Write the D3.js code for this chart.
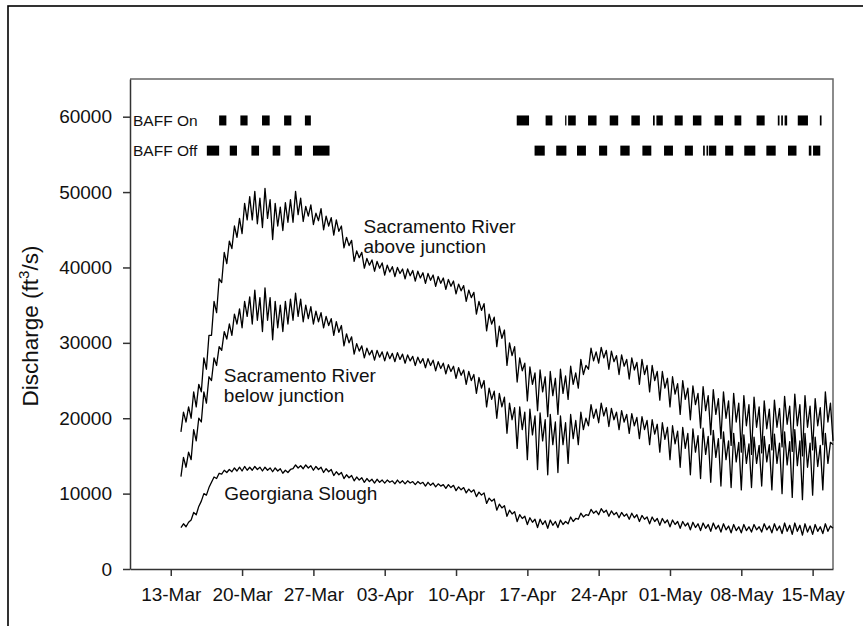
<!DOCTYPE html>
<meta charset="utf-8">
<head>
	<style>
		html, body { margin: 0; padding: 0; background: white; }
		svg text { font-family: "Liberation Sans", Arial, sans-serif; fill: #111; }
		.axis path, .axis line { stroke: #333; stroke-width: 1.5; }
		.frame { fill: none; stroke: #666; stroke-width: 1.5; }
		.series { fill: none; stroke: #000; stroke-width: 1.3; stroke-linejoin: round; }
		.baff { fill: #000; }
	</style>
	<script src="https://d3js.org/d3.v7.min.js"></script>
</head>
<body>
<script>

// DATA
// 6-hourly samples from 14-Mar 00:00 (one row = one day: low, high, low, high), last value 17-May 00:00
var seriesStart = "2012-03-14 00";

var aboveJunction = [
	18200,20800,19500,21500, 20000,23500,21500,24500, 23500,28000,26500,31000, 31000,35500,34000,38500, // 14-17 Mar
	38000,42000,40500,43500, 42500,45500,44000,46500, 44500,48500,46300,49400, 46300,50100,45800,49200, // 18-21 Mar
	45300,50500,46500,49000, 43700,48500,45500,48000, 44900,48600,46000,49000, 46000,50100,47000,49200, // 22-25 Mar
	46100,48100,46800,48300, 45700,47200,46200,47800, 45000,46800,45500,46600, 44300,46300,44800,45500, // 26-29 Mar
	42600,44000,42900,43600, 40800,42200,41300,42000, 39900,41200,40300,41000, 39500,40800,39900,40600, // 30 Mar-02 Apr
	39000,40300,39400,40100, 38800,40000,39200,39800, 38500,39800,38900,39600, 38200,39500,38600,39300, // 03-06 Apr
	37900,39200,38300,39000, 37500,38800,37900,38600, 37100,38400,37500,38200, 36500,37800,36900,37600, // 07-10 Apr
	35500,37000,36000,36700, 33800,35500,34300,35200, 31600,33800,32500,33400, 29500,32200,30600,31700, // 11-14 Apr
	27000,30000,28300,29500, 24800,28000,26300,27300, 22300,26800,24500,26000, 21000,26400,23500,25500, // 15-18 Apr
	20200,26200,23000,25300, 20500,26500,23300,25600, 22500,26900,24500,26000, 24000,27800,25800,27000, // 19-22 Apr
	26500,29300,27600,28800, 27300,29400,28000,29000, 26500,28900,27500,28300, 25800,28400,26900,27800, // 23-26 Apr
	25200,28000,26400,27400, 24500,27800,25800,27000, 23500,27000,25000,26200, 22400,26200,24000,25300, // 27-30 Apr
	21500,25500,23200,24600, 20500,25000,22500,24000, 19800,24300,21800,23300, 18700,24200,21000,23000, // 01-04 May
	17800,23800,20500,22600, 17300,23500,20000,22300, 16400,23300,19500,22000, 15500,23000,19000,21800, // 05-08 May
	15200,22800,18800,21500, 15400,22300,18600,21200, 15800,22400,18800,21300, 16200,22900,19200,21600, // 09-12 May
	15600,23200,19000,21800, 15000,23000,18800,21600, 15800,22600,19000,21400, 16500,23500,19500,22000, // 13-16 May
	17000
];

var belowJunction = [
	12250,14800,13500,15500, 14500,18500,17000,20000, 19500,23500,22000,25500, 25000,28000,27000,29500,
	29000,31500,30500,32500, 31000,33800,32500,34500, 32000,35500,33500,36100, 32500,37000,33000,36000,
	31500,37300,33000,36000, 30400,35500,32000,35000, 31500,35500,32500,35800, 33000,36600,33500,35800,
	32800,35000,33200,34800, 32500,34200,32800,34000, 32000,33500,32300,33200, 31000,32800,31400,32300,
	29600,31200,30000,30800, 28500,29900,28900,29600, 28000,29300,28400,29000, 27700,29000,28100,28800,
	27600,28800,27900,28600, 27500,28700,27800,28500, 27300,28400,27600,28200, 27000,28100,27300,27900,
	26700,27900,27000,27700, 26300,27500,26600,27300, 25900,27100,26200,26900, 25300,26700,25700,26400,
	24500,26200,25000,25800, 23300,25400,24000,25000, 21500,24000,22500,23600, 20000,23300,21500,22800,
	18000,22000,19800,21400, 16000,21500,18500,20800, 14500,21200,17800,20300, 13200,20700,17000,19800,
	12500,20500,16500,19500, 12800,20300,16500,19400, 14000,20500,17300,19700, 16500,20800,18500,20000,
	19000,21800,20000,21200, 19400,22000,20300,21400, 18900,21300,19800,20800, 18500,21000,19500,20500,
	18000,20600,19000,20100, 17300,20200,18500,19700, 16500,19800,17900,19200, 15500,19400,17200,18800,
	14500,19000,16600,18300, 13500,18800,16000,18000, 12500,18600,15500,17700, 12000,18700,15200,17600,
	11500,18400,14800,17300, 11000,18200,14500,17000, 10800,18000,14200,16800, 10500,17800,14000,16600,
	10800,17500,14000,16400, 11000,17600,14200,16500, 10500,17900,14000,16700, 10000,18200,13800,16900,
	9500,18500,13700,17000, 9200,18000,13500,16700, 9800,17500,13600,16400, 10500,18000,14000,16800,
	16500
];

var georgiana = [
	5500,6000,5600,6200, 6500,7500,7200,8300, 9000,10000,9800,10800, 11500,12200,12000,12700,
	12600,13100,12800,13200, 12900,13400,13000,13500, 13000,13600,13100,13500, 13100,13600,13200,13500,
	13000,13500,13100,13400, 12900,13400,13000,13300, 12700,13100,12800,13200, 13300,13800,13400,13700,
	13300,13800,13400,13700, 13100,13600,13200,13500, 12800,13300,12900,13200, 12400,12900,12500,12800,
	12000,12500,12100,12400, 11700,12200,11800,12100, 11500,12000,11600,11900, 11400,11900,11500,11800,
	11400,11800,11500,11700, 11300,11800,11400,11700, 11300,11700,11400,11600, 11200,11600,11300,11500,
	11000,11500,11100,11400, 10900,11300,11000,11200, 10700,11200,10800,11100, 10400,10900,10500,10800,
	10100,10600,10200,10500, 9600,10200,9800,10100, 8700,9400,9000,9300, 7800,8600,8100,8400,
	7000,7800,7300,7600, 6300,7200,6700,7000, 5900,6800,6200,6600, 5500,6600,5900,6400,
	5400,6500,5800,6300, 5500,6500,5900,6300, 6000,6900,6300,6700, 6600,7400,6900,7200,
	7100,7900,7400,7700, 7200,8000,7500,7800, 7000,7700,7200,7500, 6800,7500,7000,7300,
	6600,7400,6800,7200, 6300,7100,6600,6900, 6000,6900,6300,6700, 5800,6700,6100,6500,
	5600,6500,5900,6300, 5400,6300,5700,6100, 5200,6200,5500,6000, 5100,6100,5400,5900,
	5000,6100,5300,5800, 4900,6000,5200,5700, 4800,5900,5100,5600, 4800,5900,5100,5600,
	4900,5900,5200,5600, 4900,6000,5200,5700, 4800,6000,5100,5700, 4700,6100,5000,5800,
	4600,6100,5000,5800, 4500,6000,4900,5700, 4600,5900,5000,5600, 4700,6000,5000,5700,
	5400
];

// BAFF treatment blocks [start, end], "mm-dd hh"
var baffOn = [
	["03-17 18","03-18 11"], ["03-19 20","03-20 13"], ["03-21 23","03-22 17"], ["03-24 03","03-24 20"],
	["03-26 04","03-26 18"], ["04-15 23","04-17 04"], ["04-18 19","04-19 11"], ["04-20 17","04-20 20"],
	["04-21 00","04-21 18"], ["04-22 23","04-23 19"], ["04-25 02","04-25 22"], ["04-27 05","04-28 01"],
	["04-29 08","04-29 12"], ["04-29 16","04-30 07"], ["05-01 11","05-02 06"], ["05-03 06","05-04 02"],
	["05-05 09","05-06 05"], ["05-07 08","05-08 00"], ["05-09 12","05-10 07"], ["05-11 14","05-11 18"],
	["05-11 22","05-12 02"], ["05-12 06","05-12 12"], ["05-13 13","05-14 13"], ["05-15 17","05-15 21"]
];
var baffOff = [
	["03-16 13","03-17 18"], ["03-18 19","03-19 12"], ["03-20 22","03-21 16"], ["03-23 00","03-23 18"],
	["03-25 04","03-25 21"], ["03-26 23","03-28 14"], ["04-17 17","04-18 17"], ["04-19 20","04-20 20"],
	["04-21 21","04-22 18"], ["04-24 01","04-24 20"], ["04-26 03","04-27 01"], ["04-28 07","04-29 04"],
	["04-30 10","05-01 07"], ["05-02 11","05-03 06"], ["05-04 06","05-04 10"], ["05-04 14","05-04 18"],
	["05-04 20","05-05 13"], ["05-06 10","05-07 05"], ["05-08 07","05-09 09"], ["05-10 11","05-11 09"],
	["05-12 14","05-13 10"], ["05-14 15","05-14 21"], ["05-15 01","05-15 18"]
];

var xTicks = ["03-13","03-20","03-27","04-03","04-10","04-17","04-24","05-01","05-08","05-15"];
var yTicks = [0, 10000, 20000, 30000, 40000, 50000, 60000];

// label anchors: [text lines, "mm-dd hh", discharge]
var seriesLabels = [
	[["Sacramento River", "above junction"], "03-31 22", 44600],
	[["Sacramento River", "below junction"], "03-18 05", 24800],
	[["Georgiana Slough"], "03-18 06", 9150]
];

// SETUP
var W = 863, H = 626,
	margin = { top: 79, right: 30, bottom: 57, left: 130 },
	parseT = d3.timeParse("%Y-%m-%d %H"),
	md = function(s) { return parseT("2012-" + s + (s.length == 5 ? " 00" : "")); };

var x = d3.scaleTime()
	.domain([md("03-09"), md("05-17")])
	.range([margin.left, W - margin.right]);
var y = d3.scaleLinear()
	.domain([0, 65000])
	.range([H - margin.bottom, margin.top]);

var svg = d3.select("body").append("svg")
	.attr("width", W)
	.attr("height", H);

// outer border of the figure
svg.append("rect")
	.attr("x", 8).attr("y", 6)
	.attr("width", W + 20).attr("height", H + 20)
	.attr("fill", "none").attr("stroke", "#000").attr("stroke-width", 1.6);

// top + right frame
svg.append("path")
	.attr("class", "frame")
	.attr("d", "M" + margin.left + "," + margin.top + "H" + (W - margin.right) + "V" + (H - margin.bottom));

// AXES
svg.append("g")
	.attr("class", "axis")
	.attr("transform", "translate(0," + (H - margin.bottom) + ")")
	.call(d3.axisBottom(x).tickValues(xTicks.map(md)).tickFormat(d3.timeFormat("%d-%b")).tickSize(7).tickPadding(12).tickSizeOuter(0))
	.call(function(g) { g.selectAll("text").attr("font-size", 19).attr("fill", "#111"); });

svg.append("g")
	.attr("class", "axis")
	.attr("transform", "translate(" + margin.left + ",0)")
	.call(d3.axisLeft(y).tickValues(yTicks).tickFormat(d3.format("d")).tickSize(7).tickPadding(11).tickSizeOuter(0))
	.call(function(g) { g.selectAll("text").attr("font-size", 19).attr("fill", "#111"); });

var yl = svg.append("text")
	.attr("transform", "translate(38," + (y(32500) + 2) + ") rotate(-90)")
	.attr("text-anchor", "middle")
	.attr("font-size", 22.5);
yl.append("tspan").text("Discharge (ft");
yl.append("tspan").attr("dy", -9).attr("font-size", 15).text("3");
yl.append("tspan").attr("dy", 9).text("/s)");

// SERIES
var t0 = parseT(seriesStart);
function toPoints(arr) {
	return arr.map(function(v, i) { return [d3.timeHour.offset(t0, 6 * i), v]; });
}
var line = d3.line()
	.x(function(d) { return x(d[0]); })
	.y(function(d) { return y(d[1]); });

[aboveJunction, belowJunction, georgiana].forEach(function(s) {
	svg.append("path")
		.attr("class", "series")
		.attr("d", line(toPoints(s)));
});

// BAFF ROWS
var rows = [
	{ name: "BAFF On", blocks: baffOn, v: 59500 },
	{ name: "BAFF Off", blocks: baffOff, v: 55500 }
];
rows.forEach(function(r) {
	svg.append("text")
		.attr("x", margin.left + 3)
		.attr("y", y(r.v) + 5.5)
		.attr("font-size", 15.5)
		.text(r.name);
	svg.selectAll(null)
		.data(r.blocks)
		.enter().append("rect")
		.attr("class", "baff")
		.attr("x", function(d) { return x(parseT("2012-" + d[0])); })
		.attr("width", function(d) { return x(parseT("2012-" + d[1])) - x(parseT("2012-" + d[0])); })
		.attr("y", y(r.v) - 5)
		.attr("height", 10);
});

// SERIES LABELS
seriesLabels.forEach(function(l) {
	var t = svg.append("text")
		.attr("x", x(parseT("2012-" + l[1])))
		.attr("y", y(l[2]))
		.attr("font-size", 19);
	l[0].forEach(function(s, i) {
		t.append("tspan")
			.attr("x", x(parseT("2012-" + l[1])))
			.attr("dy", i ? 20 : 0)
			.text(s);
	});
});

</script>
</body>
